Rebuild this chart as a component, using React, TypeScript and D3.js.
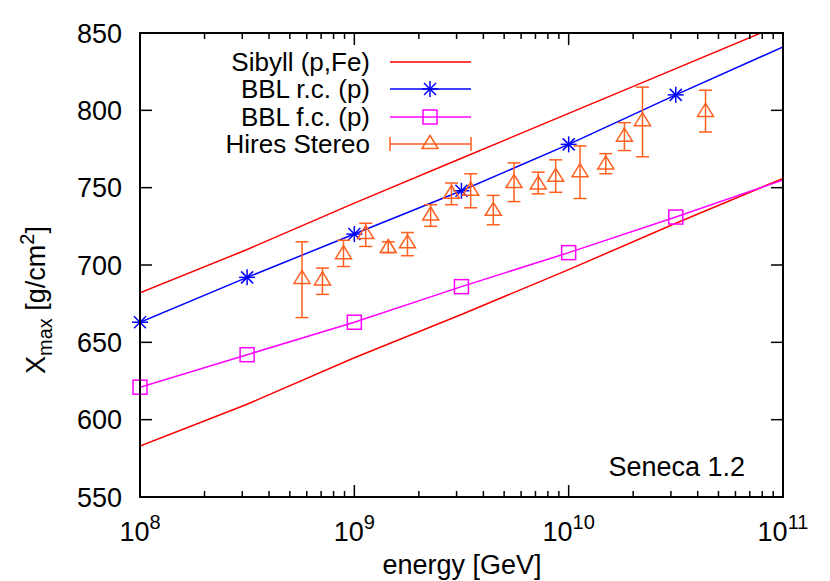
import React from 'react';
import * as d3 from 'd3';

// model curves, evaluated at half decades
const gridEnergy = [1e8, 3.16e8, 1e9, 3.16e9, 1e10, 3.16e10, 1e11];
const sibyllP = [682, 710, 740, 769, 798, 827, 856];
const sibyllFe = [583, 610, 640, 668, 697, 727, 756];
const bblRc = [663, 692, 720, 748, 778, 810, 841];
const bblFc = [621, 642, 663, 686, 708, 731, 755];

// HiRes stereo measurements
const hiresEnergy = [5.7e8, 7.1e8, 8.9e8, 1.13e9, 1.44e9, 1.77e9, 2.27e9, 2.84e9, 3.49e9, 4.45e9, 5.56e9, 7.21e9, 8.7e9, 1.13e10, 1.49e10, 1.82e10, 2.21e10, 4.35e10];
const hiresXmax = [691, 690, 707, 720, 711, 714, 732, 746, 748, 735, 753, 752, 757, 760, 765, 783, 793, 799];
const hiresHi = [715, 698, 716, 727, 715, 721, 739, 753, 759, 745, 766, 760, 768, 777, 772, 792, 815, 813];
const hiresLo = [666, 681, 699, 712, 708, 706, 725, 739, 737, 726, 741, 746, 747, 743, 759, 774, 770, 786];

const yTicks = [550, 600, 650, 700, 750, 800, 850];
const xDecades = [8, 9, 10, 11];

const RED = '#ff0000';
const BLUE = '#0000ff';
const PINK = '#ff00ff';
const ORANGE = '#ff5f1f';

const left = 140, right = 783, top = 33, bottom = 497;
const font = 'Liberation Sans, Arial, sans-serif';

const x = d3.scaleLog().domain([1e8, 1e11]).range([left, right]);
const y = d3.scaleLinear().domain([550, 850]).range([bottom, top]);

const Star = ({ cx, cy, c }: { cx: number; cy: number; c: string }) => (
  <g stroke={c} strokeWidth={1.5}>
    <line x1={cx - 8} y1={cy} x2={cx + 8} y2={cy} />
    <line x1={cx} y1={cy - 8} x2={cx} y2={cy + 8} />
    <line x1={cx - 6} y1={cy - 6} x2={cx + 6} y2={cy + 6} />
    <line x1={cx - 6} y1={cy + 6} x2={cx + 6} y2={cy - 6} />
  </g>
);

const Square = ({ cx, cy, c }: { cx: number; cy: number; c: string }) => (
  <rect x={cx - 7} y={cy - 7} width={14} height={14} fill="none" stroke={c} strokeWidth={1.5} />
);

const Tri = ({ cx, cy, c }: { cx: number; cy: number; c: string }) => (
  <path d={`M${cx},${cy - 8.5}L${cx + 8},${cy + 4.5}L${cx - 8},${cy + 4.5}Z`} fill="none" stroke={c} strokeWidth={1.5} />
);

export default function App() {
  const line = (vals: number[]) =>
    d3.line<number>().x((_, i) => x(gridEnergy[i])).y(v => y(v))(vals) || '';

  const minor: number[] = [];
  xDecades.slice(0, -1).forEach(d => {
    for (let k = 2; k <= 9; k++) minor.push(k * Math.pow(10, d));
  });

  const legend = [
    { label: 'Sibyll (p,Fe)', c: RED, y: 62 },
    { label: 'BBL r.c. (p)', c: BLUE, y: 89 },
    { label: 'BBL f.c. (p)', c: PINK, y: 117 },
    { label: 'Hires Stereo', c: ORANGE, y: 144 },
  ];

  return (
    <svg width={830} height={581} style={{ position: 'absolute', left: 0, top: 0, background: '#fff' }}>
      <defs>
        <clipPath id="plot">
          <rect x={left} y={top} width={right - left} height={bottom - top} />
        </clipPath>
      </defs>

      <g clipPath="url(#plot)" fill="none" strokeWidth={1.5}>
        <path d={line(sibyllP)} stroke={RED} />
        <path d={line(sibyllFe)} stroke={RED} />
        <path d={line(bblRc)} stroke={BLUE} />
        <path d={line(bblFc)} stroke={PINK} />
      </g>

      {bblRc.map((v, i) => gridEnergy[i] < 1e11 && <Star key={'s' + i} cx={x(gridEnergy[i])} cy={y(v)} c={BLUE} />)}
      {bblFc.map((v, i) => gridEnergy[i] < 1e11 && <Square key={'q' + i} cx={x(gridEnergy[i])} cy={y(v)} c={PINK} />)}

      {hiresXmax.map((v, i) => {
        const cx = x(hiresEnergy[i]);
        return (
          <g key={'h' + i} stroke={ORANGE} strokeWidth={1.5}>
            <line x1={cx} x2={cx} y1={y(hiresHi[i])} y2={y(hiresLo[i])} />
            <line x1={cx - 6.5} x2={cx + 6.5} y1={y(hiresHi[i])} y2={y(hiresHi[i])} />
            <line x1={cx - 6.5} x2={cx + 6.5} y1={y(hiresLo[i])} y2={y(hiresLo[i])} />
            <Tri cx={cx} cy={y(v)} c={ORANGE} />
          </g>
        );
      })}

      {/* frame and ticks */}
      <g stroke="#000" strokeWidth={1.5}>
        {yTicks.map(t => (
          <g key={'yt' + t}>
            <line x1={left} x2={left + 12} y1={y(t)} y2={y(t)} />
            <line x1={right} x2={right - 12} y1={y(t)} y2={y(t)} />
          </g>
        ))}
        {xDecades.map(d => (
          <g key={'xt' + d}>
            <line x1={x(Math.pow(10, d))} x2={x(Math.pow(10, d))} y1={bottom} y2={bottom - 12} />
            <line x1={x(Math.pow(10, d))} x2={x(Math.pow(10, d))} y1={top} y2={top + 12} />
          </g>
        ))}
        {minor.map(m => (
          <g key={'m' + m}>
            <line x1={x(m)} x2={x(m)} y1={bottom} y2={bottom - 6} />
            <line x1={x(m)} x2={x(m)} y1={top} y2={top + 6} />
          </g>
        ))}
        <rect x={left} y={top} width={right - left} height={bottom - top} fill="none" strokeWidth={2} />
      </g>

      <g fontFamily={font} fontSize={27} fill="#000">
        {yTicks.map(t => (
          <text key={'yl' + t} x={122} y={y(t) + 9.5} textAnchor="end">{t}</text>
        ))}
        {xDecades.map(d => (
          <text key={'xl' + d} x={x(Math.pow(10, d))} y={541} textAnchor="middle">
            10<tspan dy={-12} fontSize={20}>{d}</tspan>
          </text>
        ))}
        <text x={462} y={574} textAnchor="middle">energy [GeV]</text>
        <text transform="translate(45,300) rotate(-90)" textAnchor="middle">
          X<tspan dy={7} fontSize={20}>max</tspan>
          <tspan dy={-7}> [g/cm</tspan>
          <tspan dy={-11} fontSize={20}>2</tspan>
          <tspan dy={11}>]</tspan>
        </text>
        <text x={745} y={476} textAnchor="end">Seneca 1.2</text>

        {legend.map(l => (
          <text key={l.label} x={370} y={l.y + 9} textAnchor="end" fontSize={26}>{l.label}</text>
        ))}
      </g>

      {/* legend samples */}
      <g strokeWidth={1.5}>
        {legend.map(l => (
          <line key={'ll' + l.label} x1={390} x2={471} y1={l.y} y2={l.y} stroke={l.c} />
        ))}
        <Star cx={430} cy={89} c={BLUE} />
        <Square cx={430} cy={117} c={PINK} />
        <line x1={390} x2={390} y1={144 - 7} y2={144 + 7} stroke={ORANGE} />
        <line x1={471} x2={471} y1={144 - 7} y2={144 + 7} stroke={ORANGE} />
        <Tri cx={430} cy={144} c={ORANGE} />
      </g>
    </svg>
  );
}
